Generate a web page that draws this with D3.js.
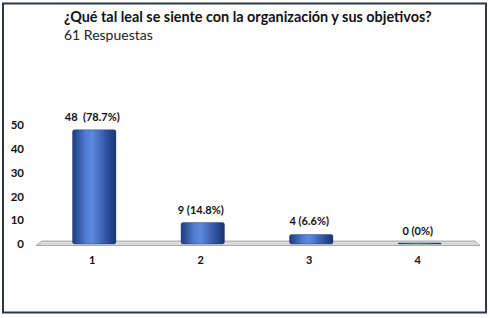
<!DOCTYPE html>
<html>
<head>
<meta charset="utf-8">
<script src="https://d3js.org/d3.v7.min.js"></script>
<style>
  body { margin: 0; background: #fff; }
  text { font-family: Lato, "Open Sans", sans-serif; white-space: pre; }
</style>
</head>
<body>
<div id="viz"></div>
<script>
  // data
  const categories = ["1", "2", "3", "4"];
  const counts     = [48, 9, 4, 0];
  const labels     = ["48  (78.7%)", "9 (14.8%)", "4 (6.6%)", "0 (0%)"];
  const yTicks     = [0, 10, 20, 30, 40, 50];
  const title      = "¿Qué tal leal se siente con la organización y sus objetivos?";
  const subtitle   = "61 Respuestas";

  const width = 490, height = 318;

  const svg = d3.select("#viz").append("svg")
      .attr("width", width).attr("height", height);

  // frame
  svg.append("rect")
      .attr("x", 3).attr("y", 3.5).attr("width", 483).attr("height", 309)
      .attr("fill", "#fff").attr("stroke", "#2c3846").attr("stroke-width", 2);

  svg.append("text").attr("x", 64).attr("y", 22)
      .style("font-weight", "bold").style("font-size", "14.4px").attr("fill", "#111")
      .text(title);
  svg.append("text").attr("x", 64).attr("y", 40)
      .style("font-size", "14px").attr("fill", "#222")
      .text(subtitle);

  const x = d3.scaleBand().domain(categories).range([40, 474])
      .paddingInner(0.6).paddingOuter(0.3);
  const y = d3.scaleLinear().domain([0, 50]).range([244, 125]);

  // gradient for bars
  const defs = svg.append("defs");
  const grad = defs.append("linearGradient").attr("id", "barGrad")
      .attr("x1", "0%").attr("x2", "100%").attr("y1", "0%").attr("y2", "0%");
  grad.append("stop").attr("offset", "0%").attr("stop-color", "#1d3c7e");
  grad.append("stop").attr("offset", "30%").attr("stop-color", "#4f7bd0");
  grad.append("stop").attr("offset", "45%").attr("stop-color", "#5d8ade");
  grad.append("stop").attr("offset", "80%").attr("stop-color", "#2d509c");
  grad.append("stop").attr("offset", "100%").attr("stop-color", "#1a3372");

  // floor
  const floorL = 36, floorR = 480;
  svg.append("polygon")
      .attr("points", [[floorL, y(0) + 1.5], [floorL + 6, y(0) - 3], [floorR - 5, y(0) - 3], [floorR, y(0) + 1.5]].join(" "))
      .attr("fill", "#d9d9d9").attr("stroke", "#9a9a9a").attr("stroke-width", 0.8);

  // y axis
  const yAxis = svg.append("g").attr("transform", "translate(24,0)")
      .call(d3.axisLeft(y).tickValues(yTicks).tickSize(0).tickPadding(0));
  yAxis.select(".domain").remove();
  yAxis.selectAll("text").style("font-size", "11.5px").style("font-weight", "bold")
      .style("font-family", "Lato, sans-serif").attr("fill", "#111");

  // x axis labels
  const xAxis = svg.append("g").attr("transform", "translate(-2,256)")
      .call(d3.axisBottom(x).tickSize(0).tickPadding(0));
  xAxis.select(".domain").remove();
  xAxis.selectAll("text").style("font-size", "11px").style("font-weight", "bold")
      .style("font-family", "Lato, sans-serif").attr("fill", "#111");

  const data = categories.map((c, i) => ({ c, v: counts[i], label: labels[i] }));

  const bars = svg.append("g").selectAll("g").data(data).join("g");

  bars.append("rect")
      .attr("x", d => x(d.c))
      .attr("y", d => y(d.v) - (d.v === 0 ? 1 : 0))
      .attr("width", x.bandwidth())
      .attr("height", d => Math.max(1, y(0) - y(d.v)))
      .attr("rx", 2)
      .attr("fill", "url(#barGrad)")
      .attr("stroke", "#1a2f66").attr("stroke-width", 0.4);

  bars.append("text")
      .attr("x", d => x(d.c) + x.bandwidth() / 2 - 2)
      .attr("y", d => y(d.v) - 9)
      .attr("text-anchor", "middle")
      .style("font-size", "11px").style("font-weight", "bold").attr("fill", "#111")
      .text(d => d.label);
</script>
</body>
</html>
